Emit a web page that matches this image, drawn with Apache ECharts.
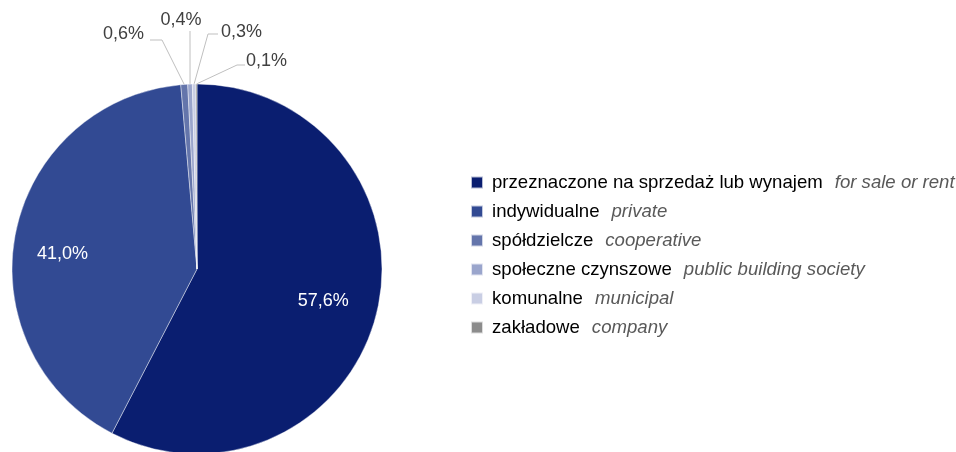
<!DOCTYPE html>
<html>
<head>
<meta charset="utf-8">
<script src="https://cdn.jsdelivr.net/npm/echarts@6/dist/echarts.min.js"></script>
<style>html,body{margin:0;padding:0;background:#fff;}#c{width:956px;height:452px;}</style>
</head>
<body>
<div id="c"></div>
<script>
const categoriesPl = ['przeznaczone na sprzedaż lub wynajem', 'indywidualne', 'spółdzielcze', 'społeczne czynszowe', 'komunalne', 'zakładowe'];
const categoriesEn = ['for sale or rent', 'private', 'cooperative', 'public building society', 'municipal', 'company'];
const values = [57.6, 41.0, 0.6, 0.4, 0.3, 0.1];
const colors = ['#0a1e70', '#324a93', '#6475ab', '#9aa5cc', '#c9cee4', '#8c8c8c'];

const fmt = v => v.toFixed(1).replace('.', ',') + '%';
const center = [197, 269];
const R = 185;
const FONT = 'Liberation Sans, Arial, sans-serif';

// positions for outside labels of small slices (label anchor + elbow)
const smallLabel = {
  2: {x: 144, y: 34, align: 'right', elbow: [[162, 40], [150, 40]]},
  3: {x: 181, y: 20, align: 'center', elbow: [[190, 31]]},
  4: {x: 221, y: 32, align: 'left', elbow: [[208, 34], [218, 34]]},
  5: {x: 246, y: 61, align: 'left', elbow: [[237, 65], [245, 65]]}
};
const innerShift = {0: [-5, 0], 1: [-2, 11]};

const mainData = categoriesPl.map((n, i) => ({
  name: n, value: values[i], itemStyle: {color: colors[i]},
  label: {show: i >= 2}, labelLine: {show: i >= 2}
}));
const overlayData = categoriesPl.map((n, i) => ({
  name: n, value: values[i],
  itemStyle: {color: 'rgba(0,0,0,0)'},
  label: {show: i < 2}
}));

const chart = echarts.init(document.getElementById('c'), null, {renderer: 'canvas'});
chart.setOption({
  animation: false,
  color: colors,
  legend: {
    orient: 'vertical',
    left: 470, top: 173,
    padding: 0,
    itemWidth: 12, itemHeight: 12, itemGap: 10,
    icon: 'rect',
    data: categoriesPl,
    formatter: name => {
      const i = categoriesPl.indexOf(name);
      return '{pl|' + name + '}{en|' + categoriesEn[i] + '}';
    },
    textStyle: {
      padding: [0, 0, 0, 4],
      rich: {
        pl: {fontFamily: FONT, fontSize: 18.6, color: '#000000', lineHeight: 20, padding: [0, 12, 0, 0]},
        en: {fontFamily: FONT, fontSize: 18.6, color: '#595959', fontStyle: 'italic', lineHeight: 20}
      }
    },
    selectedMode: false
  },
  series: [
    {
      type: 'pie',
      center: center,
      radius: [0, R],
      startAngle: 90,
      clockwise: true,
      avoidLabelOverlap: false,
      itemStyle: {borderColor: 'rgba(255,255,255,0.7)', borderWidth: 0.6},
      label: {
        position: 'outside',
        formatter: p => fmt(p.value),
        fontFamily: FONT, fontSize: 18, color: '#404040'
      },
      labelLine: {show: true, length: 10, length2: 10, lineStyle: {color: '#bfbfbf', width: 1}},
      labelLayout: function (params) {
        const s = smallLabel[params.dataIndex];
        if (!s) return {};
        const start = params.labelLinePoints ? params.labelLinePoints[0] : null;
        const pts = start ? [start].concat(s.elbow) : null;
        const w = params.labelRect.width;
        let x = s.x;
        if (s.align === 'right') x = s.x - w;
        else if (s.align === 'center') x = s.x - w / 2;
        const out = {x: x, y: s.y - params.labelRect.height / 2, align: 'left', verticalAlign: 'top'};
        if (pts) out.labelLinePoints = pts;
        return out;
      },
      emphasis: {disabled: true},
      data: mainData
    },
    {
      type: 'pie',
      center: center,
      radius: [0, 264],
      startAngle: 90,
      clockwise: true,
      silent: true,
      label: {
        position: 'inside',
        formatter: p => fmt(p.value),
        fontFamily: FONT, fontSize: 18, color: '#ffffff'
      },
      labelLayout: function (params) {
        const d = innerShift[params.dataIndex];
        return d ? {dx: d[0], dy: d[1]} : {};
      },
      labelLine: {show: false},
      itemStyle: {color: 'rgba(0,0,0,0)'},
      emphasis: {disabled: true},
      data: overlayData
    }
  ]
});
</script>
</body>
</html>
